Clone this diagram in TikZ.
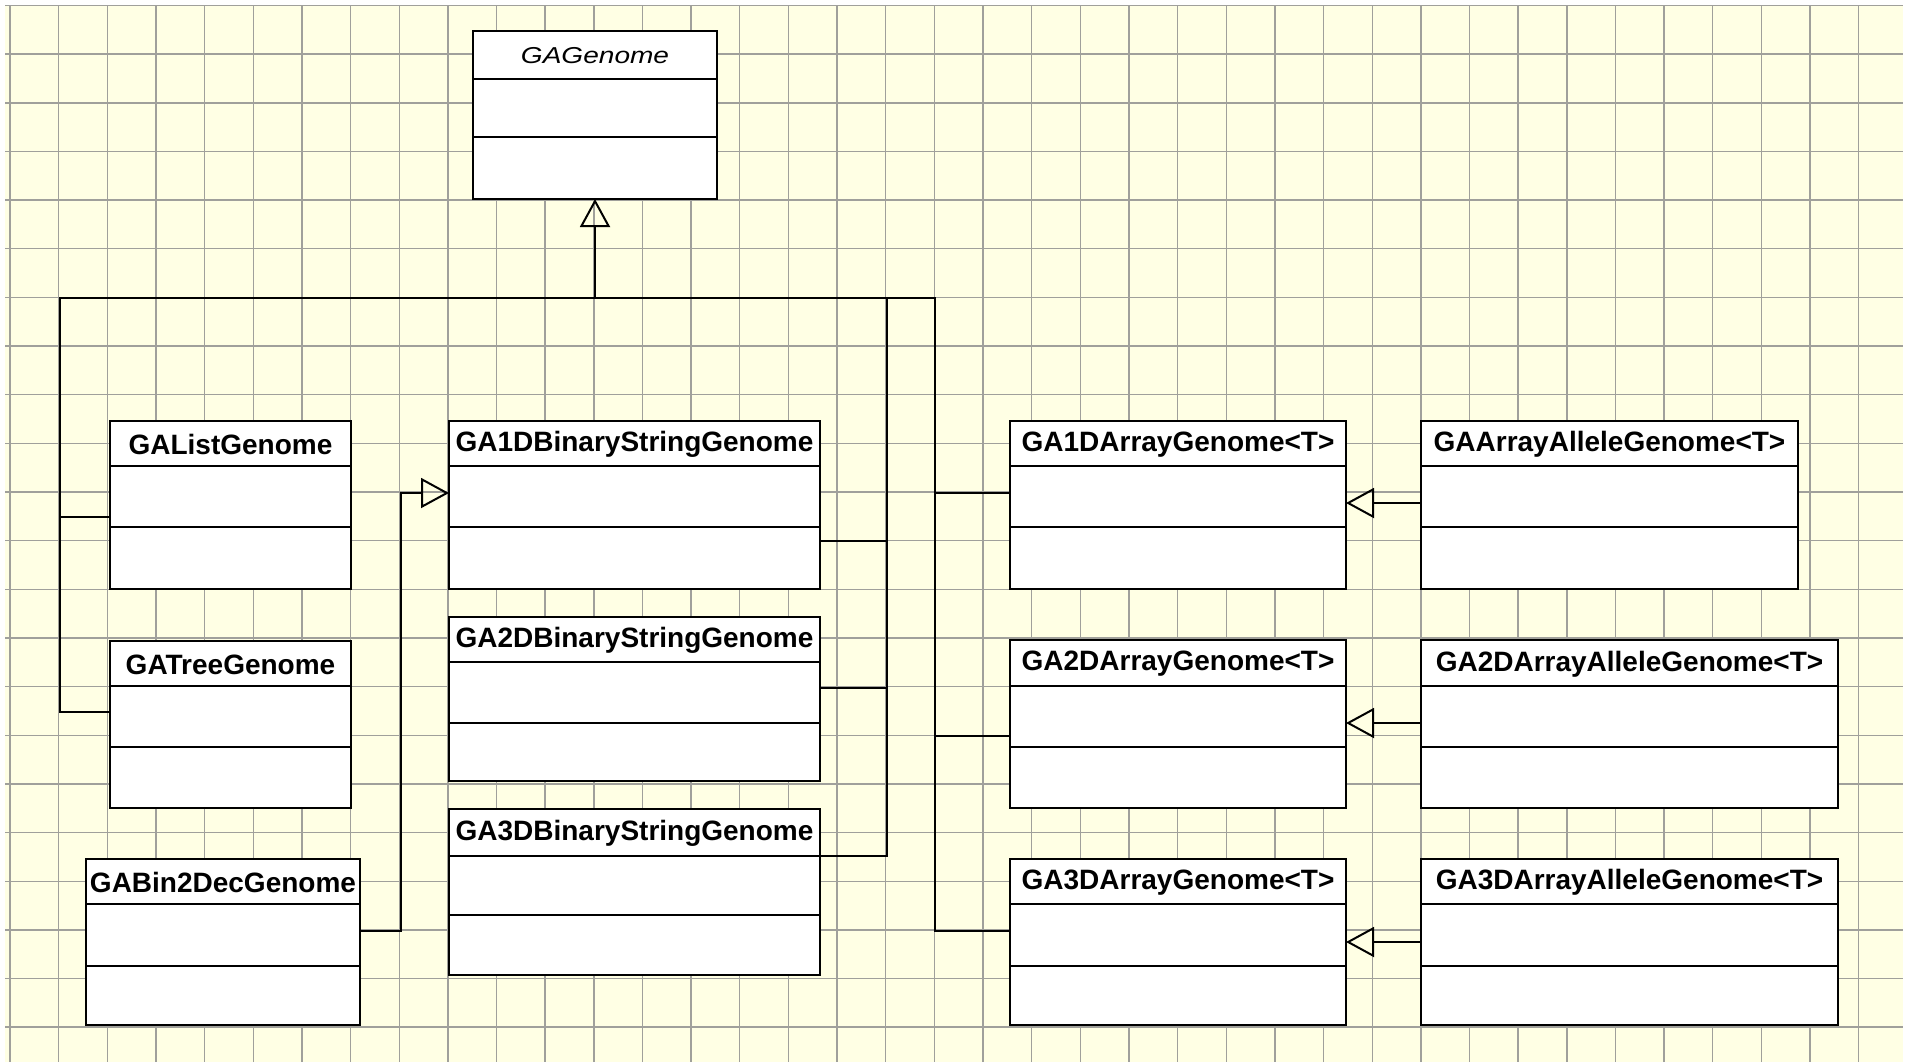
\documentclass[tikz,border=0pt]{standalone}
\usepackage{fontspec}
\usepackage{graphicx}
\setmainfont{Liberation Sans}
\usetikzlibrary{arrows.meta,fit}
\definecolor{paper}{RGB}{255,255,228}
\definecolor{gridc}{RGB}{160,160,155}
\newcommand\umlbox[8]{%
  \node[classbox, fit={(#2,#3) (#4,#5)}] (#1) {};
  \draw[divider] (#2,#6) -- (#4,#6) (#2,#7) -- (#4,#7);
  \node[clstitle] (#1-t) at ({(#2+#4)/2},{(#3+#6)/2+1}) {#8};
}
\begin{document}
\begin{tikzpicture}[x=0.5pt,y=-0.5pt,
  classbox/.style={draw=black, fill=white, line width=1.2pt, inner sep=0pt, outer sep=0pt},
  divider/.style={line width=1pt},
  clstitle/.style={font=\bfseries\fontsize{14}{16}\selectfont, inner sep=0pt},
  link/.style={line width=1pt},
  inh/.style={line width=1pt, -{Triangle[open, length=14pt, width=15pt, line width=1pt]}},
  gridline/.style={draw=gridc, line width=0.7pt}]
\useasboundingbox (0,0) rectangle (1911,1062);
\fill[white] (0,0) rectangle (1911,1062);
\fill[paper] (5,5) rectangle (1903,1062);
\foreach \i in {0,...,38} \draw[gridline] ({10+48.65*\i},5) -- ({10+48.65*\i},1062);
\foreach \j in {0,...,21} \draw[gridline] (5,{5.5+48.65*\j}) -- (1903,{5.5+48.65*\j});

% classes
\node[classbox, fit={(473,31) (717,199)}] (gen) {};
\draw[divider] (473,79) -- (717,79) (473,137) -- (717,137);
\node[inner sep=0pt, font=\itshape\fontsize{11.5}{13}\selectfont] (gen-t) at (595,56) {\scalebox{1.22}[1]{GAGenome}};

\umlbox{list}{110}{421}{351}{589}{466}{527}{GAListGenome}
\umlbox{tree}{110}{641}{351}{808}{686}{747}{GATreeGenome}
\umlbox{b2d}{86}{859}{360}{1025}{904}{966}{GABin2DecGenome}
\umlbox{bs1}{449}{421}{820}{589}{466}{527}{GA1DBinaryStringGenome}
\umlbox{bs2}{449}{617}{820}{781}{662}{723}{GA2DBinaryStringGenome}
\umlbox{bs3}{449}{809}{820}{975}{856}{915}{GA3DBinaryStringGenome}
\umlbox{a1}{1010}{421}{1346}{589}{466}{527}{GA1DArrayGenome<T>}
\umlbox{a2}{1010}{640}{1346}{808}{686}{747}{GA2DArrayGenome<T>}
\umlbox{a3}{1010}{859}{1346}{1025}{904}{966}{GA3DArrayGenome<T>}
\umlbox{al1}{1421}{421}{1798}{589}{466}{527}{GAArrayAlleleGenome<T>}
\umlbox{al2}{1421}{640}{1838}{808}{686}{747}{GA2DArrayAlleleGenome<T>}
\umlbox{al3}{1421}{859}{1838}{1025}{904}{966}{GA3DArrayAlleleGenome<T>}

% junction levels
\coordinate (busL) at (60,298);
\coordinate (busR) at (935,298);
\coordinate (vB) at (887,298);
\coordinate (bend) at (401,493);
\coordinate (yl1) at (0,517);
\coordinate (yl2) at (0,712);
\coordinate (yb) at (0,931);
\coordinate (ys1) at (0,541);
\coordinate (ys2) at (0,688);
\coordinate (ys3) at (0,856);
\coordinate (ya1) at (0,493);
\coordinate (ya2) at (0,736);
\coordinate (ya3) at (0,931);
\coordinate (yal1) at (0,503);
\coordinate (yal2) at (0,723);
\coordinate (yal3) at (0,942);

% connectors
\draw[link] (list.west |- yl1) -| (busL) -- (busR) |- (a3.west |- ya3);
\draw[link] (tree.west |- yl2) -| (busL);
\draw[inh] (gen.south |- busL) -- (gen.south);
\draw[link] (vB) |- (bs3.east |- ys3);
\draw[link] (bs1.east |- ys1) -- (vB |- ys1);
\draw[link] (bs2.east |- ys2) -- (vB |- ys2);
\draw[link] (a1.west |- ya1) -- (busR |- ya1);
\draw[link] (a2.west |- ya2) -- (busR |- ya2);
\draw[inh] (b2d.east |- yb) -| (bend) -- (bs1.west |- bend);
\draw[inh] (al1.west |- yal1) -- (a1.east |- yal1);
\draw[inh] (al2.west |- yal2) -- (a2.east |- yal2);
\draw[inh] (al3.west |- yal3) -- (a3.east |- yal3);
\end{tikzpicture}
\end{document}
